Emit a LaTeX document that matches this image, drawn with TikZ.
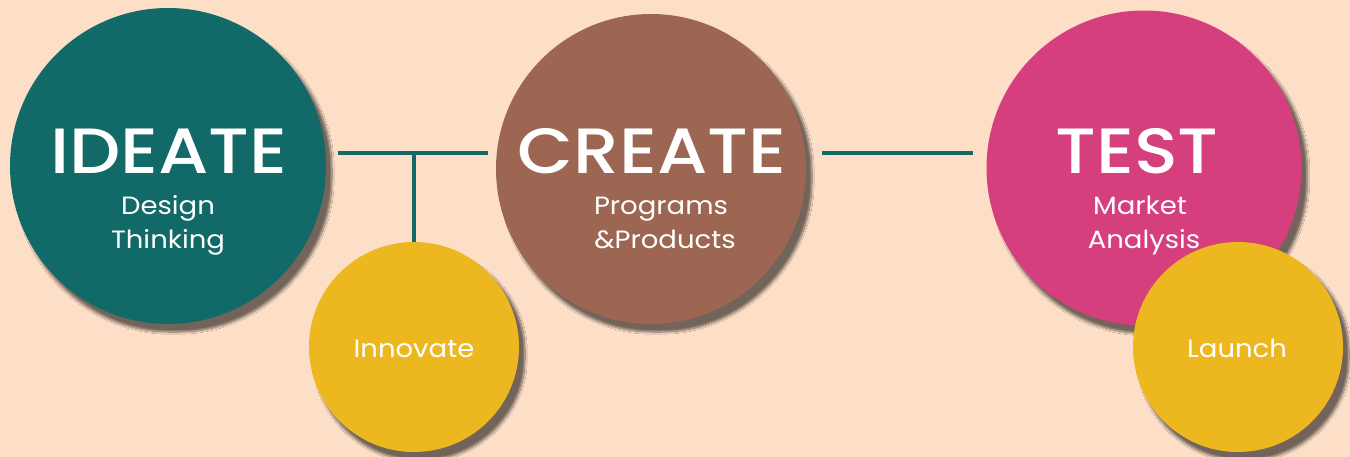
\documentclass[tikz,border=0pt]{standalone}
\usepackage{fontspec}
\setmainfont{Poppins}
\newfontfamily\titlefont{Poppins Medium}[FakeStretch=1.13]
\newfontfamily\subfont{Poppins}[FakeStretch=1.1]
\usetikzlibrary{shadows.blur}
\definecolor{bg}{HTML}{FDDFC8}
\definecolor{teal}{HTML}{116968}
\definecolor{brownc}{HTML}{9D6652}
\definecolor{pinkc}{HTML}{D63F7D}
\definecolor{yellowc}{HTML}{EDB81F}
\tikzset{
  bubble/.style={circle, inner sep=0pt, draw=none, minimum size=#1,
    blur shadow={shadow xshift=6pt, shadow yshift=-8pt, shadow blur steps=10, shadow blur extra rounding=5pt, shadow opacity=55}},
  title/.style={text=white, anchor=base, font=\titlefont\fontsize{64}{64}\selectfont},
  sub/.style={text=white, anchor=base, font=\subfont\fontsize{25}{25}\selectfont},
  link/.style={draw=teal, line width=4pt}
}
\begin{document}
\begin{tikzpicture}[x=1pt,y=-1pt]
\useasboundingbox[fill=bg] (0,0) rectangle (1350,457);
% connectors
\coordinate (l1a) at (338,153);
\coordinate (l1b) at (488,153);
\coordinate (j1) at (414,153);
\coordinate (l2a) at (822,153);
\coordinate (l2b) at (973,153);
\node[bubble=210pt, fill=yellowc] (innovate) at (414,347) {};
\draw[link] (l1a) -- (l1b);
\draw[link] (j1) -- (innovate.north);
\draw[link] (l2a) -- (l2b);
% circles
\node[bubble=316pt, fill=teal] (ideate) at (168,166) {};
\node[bubble=310pt, fill=brownc] (create) at (651,169) {};
\node[bubble=315pt, fill=pinkc] (test) at (1144,168) {};
\node[bubble=210pt, fill=yellowc] (launch) at (1238,347) {};
% texts
\node[title] (t1) at (169,174) {IDEATE};
\node[sub] (s1a) at (168,215) {Design};
\node[sub] (s1b) at (168,249) {Thinking};
\node[title] (t2) at (652,174) {CREATE};
\node[sub] (s2a) at (661,215) {Programs};
\node[sub] (s2b) at (665,249) {\&Products};
\node[title] (t3) at (1137,174) {TEST};
\node[sub] (s3a) at (1140,215) {Market};
\node[sub] (s3b) at (1144,249) {Analysis};
\node[sub] (s4) at (414,357) {Innovate};
\node[sub] (s5) at (1237,357) {Launch};
\end{tikzpicture}
\end{document}
